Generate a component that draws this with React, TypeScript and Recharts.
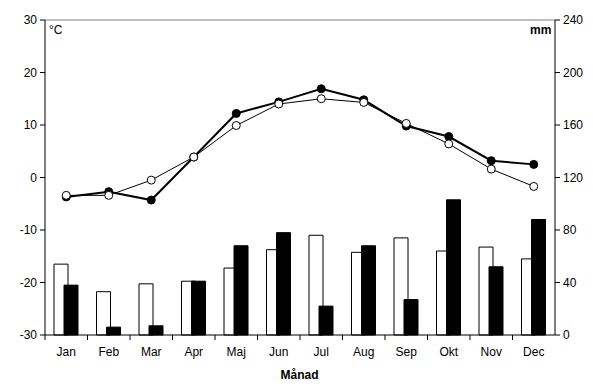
import { ComposedChart, Bar, Line, XAxis, YAxis, ReferenceLine } from 'recharts';

const months = ['Jan', 'Feb', 'Mar', 'Apr', 'Maj', 'Jun', 'Jul', 'Aug', 'Sep', 'Okt', 'Nov', 'Dec'];
const tempA = [-3.7, -2.7, -4.3, 3.9, 12.2, 14.4, 16.9, 14.8, 9.8, 7.8, 3.2, 2.5];
const tempB = [-3.4, -3.4, -0.5, 3.9, 9.9, 14.0, 15.0, 14.3, 10.3, 6.4, 1.6, -1.7];
const precipA = [54, 33, 39, 41, 51, 65, 76, 63, 74, 64, 67, 58];
const precipB = [38, 6, 7, 41, 68, 78, 22, 68, 27, 103, 52, 88];
const tempTicks = [-30, -20, -10, 0, 10, 20, 30];
const precipTicks = [0, 40, 80, 120, 160, 200, 240];

const W = 593;
const H = 389;
const LEFT = 45;
const RIGHT = 38;
const BAND = (W - LEFT - RIGHT) / months.length;
const FONT = '"Liberation Sans", Arial, sans-serif';

const data = months.map((m, i) => ({
    month: m,
    tA: tempA[i],
    tB: tempB[i],
    pA: precipA[i],
    pB: precipB[i],
}));

function MonthTick(props: any) {
    const { x, y, payload } = props;
    const bx = x - BAND / 2;
    return (
        <g>
            <line x1={bx} x2={bx} y1={y} y2={y + 5} stroke="#000" />
            <text x={x} y={y + 21} textAnchor="middle" fontSize={12} fontFamily={FONT} fill="#000">
                {payload.value}
            </text>
        </g>
    );
}

export default function App() {
    return (
        <div style={{ position: 'absolute', left: 0, top: 0, width: W, height: H, background: '#fff' }}>
            <ComposedChart
                width={W}
                height={H}
                data={data}
                margin={{ top: 20, right: 0, left: 0, bottom: 0 }}
                barGap={-4}
                barCategoryGap={0}
            >
                <XAxis
                    dataKey="month"
                    height={54}
                    tick={<MonthTick />}
                    tickLine={false}
                    tickSize={0}
                    tickMargin={0}
                    axisLine={{ stroke: '#000' }}
                    interval={0}
                />
                <YAxis
                    yAxisId="t"
                    width={LEFT}
                    domain={[-30, 30]}
                    ticks={tempTicks}
                    tick={{ fontSize: 12, fontFamily: FONT, fill: '#000' }}
                    tickLine={{ stroke: '#000' }}
                    tickSize={5}
                    tickMargin={3}
                    axisLine={{ stroke: '#000' }}
                    interval={0}
                />
                <YAxis
                    yAxisId="p"
                    orientation="right"
                    width={RIGHT}
                    domain={[0, 240]}
                    ticks={precipTicks}
                    tick={{ fontSize: 12, fontFamily: FONT, fill: '#000' }}
                    tickLine={{ stroke: '#000' }}
                    tickSize={5}
                    tickMargin={3}
                    axisLine={{ stroke: '#000' }}
                    interval={0}
                />
                <ReferenceLine yAxisId="t" y={30} stroke="#808080" />
                <Bar yAxisId="p" dataKey="pA" barSize={14} fill="#fff" stroke="#000" strokeWidth={1} isAnimationActive={false} />
                <Bar yAxisId="p" dataKey="pB" barSize={14} fill="#000" stroke="#000" strokeWidth={1} isAnimationActive={false} />
                <Line
                    yAxisId="t"
                    dataKey="tA"
                    stroke="#000"
                    strokeWidth={2}
                    dot={{ r: 4, fill: '#000', stroke: '#000', strokeWidth: 1 }}
                    isAnimationActive={false}
                />
                <Line
                    yAxisId="t"
                    dataKey="tB"
                    stroke="#000"
                    strokeWidth={1}
                    dot={{ r: 4, fill: '#fff', stroke: '#000', strokeWidth: 1 }}
                    isAnimationActive={false}
                />
            </ComposedChart>
            <div style={{ position: 'absolute', left: 49, top: 23, fontSize: 12, fontFamily: FONT }}>°C</div>
            <div style={{ position: 'absolute', left: 530, top: 23, fontSize: 12, fontFamily: FONT, fontWeight: 'bold' }}>mm</div>
            <div style={{ position: 'absolute', left: 0, width: W, top: 368, textAlign: 'center', fontSize: 12, fontFamily: FONT, fontWeight: 'bold' }}>
                <span style={{ position: 'relative', left: 3 }}>Månad</span>
            </div>
        </div>
    );
}
